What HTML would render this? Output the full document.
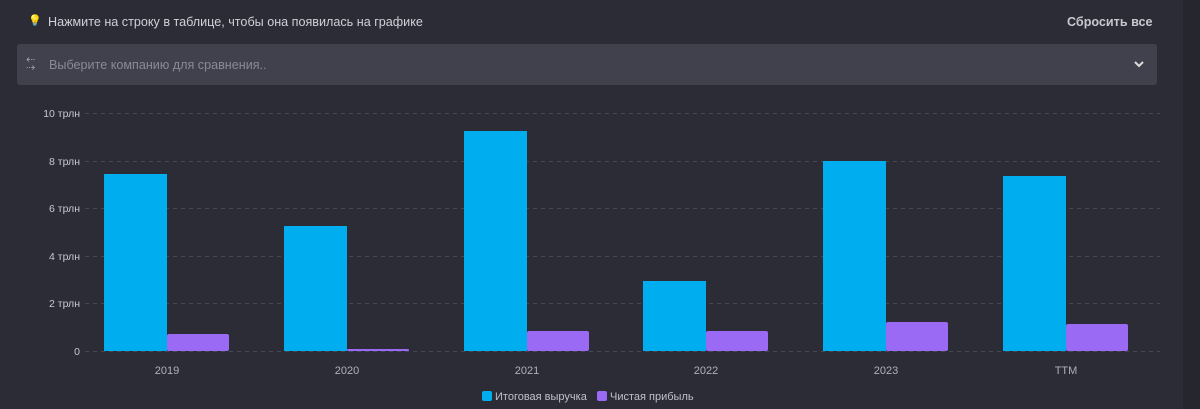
<!DOCTYPE html>
<html><head><meta charset="utf-8"><style>
body{margin:0;width:1200px;height:409px;background:#2c2c37;overflow:hidden;font-family:"Liberation Sans","DejaVu Sans",sans-serif;position:relative}
.strip{position:absolute;left:1183px;top:0;width:17px;height:409px;background:#26262e}
.t{position:absolute;color:#d0d0d8;font-size:12.6px}
</style></head><body>
<div class="strip"></div>
<div class="t" style="left:28px;top:14px;color:#f5c518;font-size:11px">💡</div>
<div class="t" style="left:48px;top:15px">Нажмите на строку в таблице, чтобы она появилась на графике</div>
<div class="t" style="left:1067px;top:15px;font-weight:bold;color:#c8c8d0">Сбросить все</div>
<div style="position:absolute;left:17px;top:44px;width:1140px;height:41px;background:#41414e;border-radius:3px"></div>
<div class="t" style="left:26px;top:56px;color:#9a9aa6;font-size:11px;line-height:8px">⇠<br>⇢</div>
<div class="t" style="left:49px;top:58px;color:#8a8a96">Выберите компанию для сравнения..</div>
<svg style="position:absolute;left:1133px;top:60px" width="12" height="8"><path d="M2 2 L6 6 L10 2" stroke="#ddd" stroke-width="2" fill="none"/></svg>
<svg style="position:absolute;left:0;top:0" width="1200" height="409" font-family="Liberation Sans, sans-serif">
<g stroke="#464652" stroke-dasharray="4 4" stroke-width="1">
<line x1="85" x2="1160" y1="113.5" y2="113.5"/><line x1="85" x2="1160" y1="161.5" y2="161.5"/><line x1="85" x2="1160" y1="208.5" y2="208.5"/><line x1="85" x2="1160" y1="256.5" y2="256.5"/><line x1="85" x2="1160" y1="303.5" y2="303.5"/><line x1="85" x2="1160" y1="351.5" y2="351.5"/>
</g>
<g fill="#c8c8d0" font-size="10.5" text-anchor="end">
<text x="80" y="117">10 трлн</text><text x="80" y="165">8 трлн</text><text x="80" y="212">6 трлн</text><text x="80" y="260">4 трлн</text><text x="80" y="307">2 трлн</text><text x="80" y="355">0</text>
</g>
<g fill="#00aef0">
<rect x="104" y="174" width="63" height="177"/><rect x="284" y="226" width="63" height="125"/><rect x="464" y="131" width="63" height="220"/><rect x="643" y="281" width="63" height="70"/><rect x="823" y="161" width="63" height="190"/><rect x="1003" y="176" width="63" height="175"/>
</g>
<g fill="#9b6af5">
<rect x="167" y="334" width="62" height="17" rx="2"/><rect x="347" y="349" width="62" height="2" rx="1"/><rect x="527" y="331" width="62" height="20" rx="2"/><rect x="706" y="331" width="62" height="20" rx="2"/><rect x="886" y="322" width="62" height="29" rx="2"/><rect x="1066" y="324" width="62" height="27" rx="2"/>
</g>
<g fill="#b0b0ba" font-size="11" text-anchor="middle">
<text x="167" y="374">2019</text><text x="347" y="374">2020</text><text x="527" y="374">2021</text><text x="706" y="374">2022</text><text x="886" y="374">2023</text><text x="1066" y="374">TTM</text>
</g>
<rect x="482" y="391" width="10" height="10" rx="2" fill="#00aef0"/>
<text x="495" y="400" fill="#c0c0ca" font-size="11">Итоговая выручка</text>
<rect x="597" y="391" width="10" height="10" rx="2" fill="#9b6af5"/>
<text x="610" y="400" fill="#c0c0ca" font-size="11">Чистая прибыль</text>
</svg>
</body></html>
